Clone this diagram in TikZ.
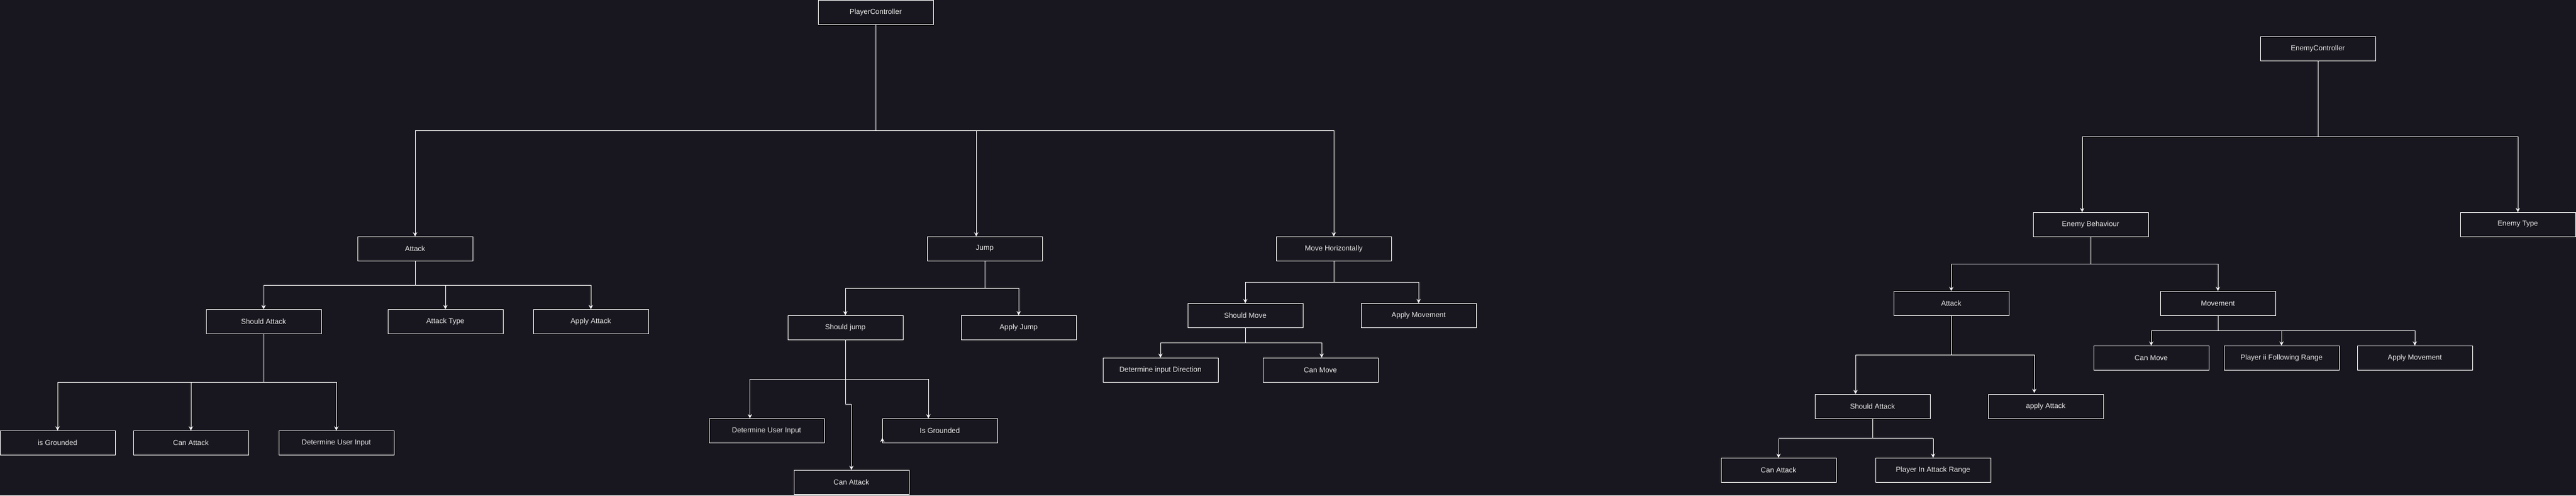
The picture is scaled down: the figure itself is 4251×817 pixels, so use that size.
\documentclass[tikz,border=0pt]{standalone}
\usepackage{fontspec}
\setmainfont{Liberation Sans}
\usetikzlibrary{arrows.meta}
\definecolor{bg}{RGB}{24,22,30}
\definecolor{txt}{RGB}{232,232,232}
\begin{document}
\begin{tikzpicture}[x=1pt,y=-1pt,
 box/.style={draw=white,line width=1pt,minimum width=190pt,minimum height=40pt,inner sep=0pt,outer sep=0pt,text=txt,font=\fontsize{12}{14}\selectfont,fill=bg},
 conn/.style={draw=white,line width=1pt},
 arr/.style={conn,-{Stealth[length=7pt,width=7pt,inset=2.5pt]}},
 dimseg/.style={draw=white!55!bg,line width=1.2pt}]
\fill[bg] (0,0) rectangle (4251,817);
\useasboundingbox (0,0) rectangle (4251,817);
% ---------- Player tree ----------
\node[box] (pc) at (1445,20) {PlayerController};
\node[box] (pa) at (685,410) {Attack};
\node[box] (pj) at (1625,410) {Jump};
\node[box] (pm) at (2201,410) {Move Horizontally};
\node[box] (psa) at (435,530) {Should Attack};
\node[box] (pat) at (735,530) {Attack Type};
\node[box] (paa) at (975,530) {Apply Attack};
\node[box] (pig) at (95,730) {is Grounded};
\node[box] (pca) at (315,730) {Can Attack};
\node[box] (pdu) at (555,730) {Determine User Input};
\node[box] (psj) at (1395,540) {Should jump};
\node[box] (paj) at (1681,540) {Apply Jump};
\node[box] (jdu) at (1265,710) {Determine User Input};
\node[box] (jig) at (1551,710) {Is Grounded};
\node[box] (jca) at (1405,795) {Can Attack};
\node[box] (psm) at (2055,520) {Should Move};
\node[box] (pam) at (2341,520) {Apply Movement};
\node[box] (pdd) at (1915,610) {Determine input Direction};
\node[box] (pcm) at (2179,610) {Can Move};
% ---------- Enemy tree ----------
\node[box] (ec) at (3825,80) {EnemyController};
\node[box] (eb) at (3450,370) {Enemy Behaviour};
\node[box] (et) at (4155,370) {Enemy Type};
\node[box] (ea) at (3220,500) {Attack};
\node[box] (em) at (3660,500) {Movement};
\node[box] (esa) at (3090,670) {Should Attack};
\node[box] (eaa) at (3376,670) {apply Attack};
\node[box] (eca) at (2935,775) {Can Attack};
\node[box] (epr) at (3190,775) {Player In Attack Range};
\node[box] (ecm) at (3550,590) {Can Move};
\node[box] (epf) at (3765,590) {Player ii Following Range};
\node[box] (eam) at (3985,590) {Apply Movement};
% ---------- Player connectors ----------
\draw[arr] (pc.south) -- ++(0,175) -| (pa.north);
\draw[arr] (pc.south) -- ++(0,175) -| ([xshift=-14pt]pj.north);
\draw[arr] (pc.south) -- ++(0,175) -| (pm.north);
\draw[arr] (pa.south) -- ++(0,40) -| (psa.north);
\draw[arr] (pa.south) -- ++(0,40) -| (pat.north);
\draw[arr] (pa.south) -- ++(0,40) -| (paa.north);
\draw[arr] (psa.south) -- ++(0,80) -| (pig.north);
\draw[arr] (psa.south) -- ++(0,80) -| (pca.north);
\draw[arr] (psa.south) -- ++(0,80) -| (pdu.north);
\draw[arr] (pj.south) -- ++(0,45) -| (psj.north);
\draw[arr] (pj.south) -- ++(0,45) -| (paj.north);
\draw[arr] (psj.south) -- ++(0,65) -| ([xshift=-27.5pt]jdu.north);
\draw[arr] (psj.south) -- ++(0,65) -| ([xshift=-19pt]jig.north);
\draw[arr] (psj.south) -- ++(0,107) coordinate (jog) -| (jca.north);
\draw[dimseg] (jog) -- (jog -| jca.north);
\draw[arr] (jig.south west) -- ++(0,-8);
\draw[arr] (pm.south) -- ++(0,35) -| (psm.north);
\draw[arr] (pm.south) -- ++(0,35) -| (pam.north);
\draw[arr] (psm.south) -- ++(0,25) -| (pdd.north);
\draw[arr] (psm.south) -- ++(0,25) -| ([xshift=2pt]pcm.north);
% ---------- Enemy connectors ----------
\draw[arr] (ec.south) -- ++(0,125) -| ([xshift=-14pt]eb.north);
\draw[arr] (ec.south) -- ++(0,125) -| (et.north);
\draw[arr] (eb.south) -- ++(0,45) -| (ea.north);
\draw[arr] (eb.south) -- ++(0,45) -| (em.north);
\draw[arr] (ea.south) -- ++(0,65) -| ([xshift=-28pt]esa.north);
\draw[arr] (ea.south) -- ++(0,65) -| ([xshift=-19pt,yshift=2pt]eaa.north);
\draw[arr] (esa.south) -- ++(0,33) coordinate (ef) -| (eca.north);
\draw[arr] (esa.south) -- ++(0,33) -| (epr.north);
\draw[dimseg] (ef -| eca.north) -- (ef -| epr.north);
\draw[arr] (em.south) -- ++(0,25) -| (ecm.north);
\draw[arr] (em.south) -- ++(0,25) -| (epf.north);
\draw[arr] (em.south) -- ++(0,25) -| (eam.north);
\end{tikzpicture}
\end{document}
